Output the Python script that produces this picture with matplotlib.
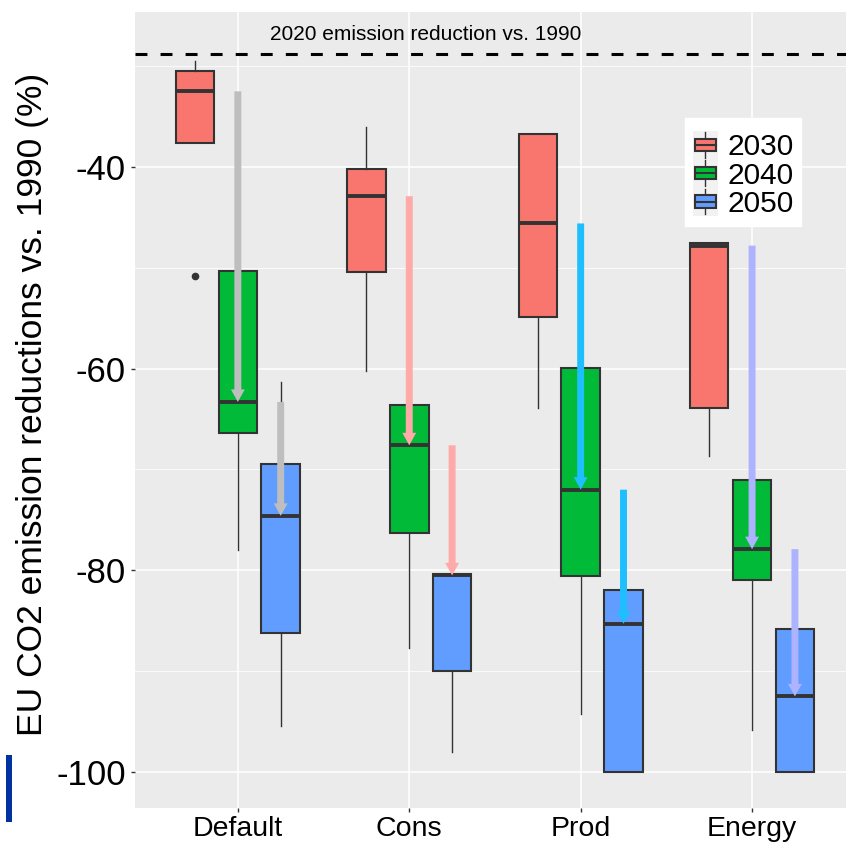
import matplotlib
matplotlib.use('Agg')
import matplotlib.pyplot as plt
from matplotlib.legend_handler import HandlerBase
from matplotlib.patches import Rectangle
from matplotlib.lines import Line2D

plt.rcParams['font.family'] = ['Liberation Sans', 'DejaVu Sans']

scenarios = ['Default', 'Cons', 'Prod', 'Energy']
years = ['2030', '2040', '2050']

# box statistics per year, one value per scenario
whisker_low = {
    '2030': [-37.6, -60.2, -63.9, -68.7],
    '2040': [-78.0, -87.7, -94.2, -95.8],
    '2050': [-95.4, -98.0, -100.0, -100.0],
}
q1 = {
    '2030': [-37.6, -50.4, -54.9, -63.9],
    '2040': [-66.4, -76.3, -80.6, -81.0],
    '2050': [-86.2, -90.0, -100.0, -100.0],
}
median = {
    '2030': [-32.5, -42.9, -45.6, -47.8],
    '2040': [-63.3, -67.6, -72.0, -77.9],
    '2050': [-74.6, -80.5, -85.3, -92.5],
}
q3 = {
    '2030': [-30.5, -40.2, -36.7, -47.5],
    '2040': [-50.3, -63.6, -59.9, -71.0],
    '2050': [-69.5, -80.4, -82.0, -85.8],
}
whisker_high = {
    '2030': [-29.5, -36.0, -36.7, -47.5],
    '2040': [-50.3, -63.6, -59.9, -71.0],
    '2050': [-61.3, -80.4, -82.0, -85.8],
}
outliers = {
    '2030': [[-50.8], [], [], []],
    '2040': [[], [], [], []],
    '2050': [[], [], [], []],
}

reduction_2020 = -28.8

box_colors = ['#F8766D', '#00BA38', '#619CFF']
arrow_colors = ['#BEBEBE', '#FFA9A9', '#1FBFFF', '#ADB3FF']
dodge = [-0.25, 0.0, 0.25]


class BoxKey(HandlerBase):
    """legend key drawn as a tiny boxplot"""
    def create_artists(self, legend, orig_handle, xdescent, ydescent,
                       width, height, fontsize, trans):
        x0, y0 = -xdescent, -ydescent
        cx, cy = x0 + width / 2, y0 + height / 2
        bg = Rectangle((x0, y0 - 1), width, height + 2, facecolor='#F2F2F2',
                       edgecolor='none', transform=trans)
        whisk = Line2D([cx, cx], [y0, y0 + height], color='#333333',
                       lw=1.0, transform=trans)
        box = Rectangle((x0 + 0.1 * width, cy - 0.24 * height), 0.8 * width,
                        0.48 * height, facecolor=orig_handle.get_facecolor(),
                        edgecolor='#333333', lw=1.5, transform=trans)
        med = Line2D([x0 + 0.1 * width, x0 + 0.9 * width], [cy, cy],
                     color='#333333', lw=1.5, transform=trans)
        return [bg, whisk, box, med]


fig = plt.figure(figsize=(8.46, 8.43), dpi=100)
ax = fig.add_axes([135 / 846, 35 / 843, 711 / 846, 796 / 843])
ax.set_facecolor('#EBEBEB')

for j, yr in enumerate(years):
    stats = []
    for i in range(len(scenarios)):
        stats.append(dict(med=median[yr][i], q1=q1[yr][i], q3=q3[yr][i],
                          whislo=whisker_low[yr][i], whishi=whisker_high[yr][i],
                          fliers=outliers[yr][i]))
    pos = [i + 1 + dodge[j] for i in range(len(scenarios))]
    ax.bxp(stats, positions=pos, widths=0.225, patch_artist=True,
           showcaps=False, manage_ticks=False,
           boxprops=dict(facecolor=box_colors[j], edgecolor='#333333', linewidth=1.5),
           medianprops=dict(color='#333333', linewidth=2.8),
           whiskerprops=dict(color='#333333', linewidth=1.0),
           flierprops=dict(marker='o', markerfacecolor='#333333',
                           markeredgecolor='#333333', markersize=4.5))

# arrows from one decade's median to the next
for i in range(len(scenarios)):
    for j in range(len(years) - 1):
        x = i + 1 + dodge[j + 1]
        ax.annotate('', xy=(x, median[years[j + 1]][i]),
                    xytext=(x, median[years[j]][i]),
                    arrowprops=dict(arrowstyle='simple,head_length=0.9,head_width=1.0,tail_width=0.5',
                                    mutation_scale=10, color=arrow_colors[i],
                                    lw=0, shrinkA=0, shrinkB=0),
                    zorder=5)

ax.axhline(reduction_2020, color='black', lw=2.2, linestyle=(0, (3.9, 4.3)), zorder=2)
ax.text(2.095, -26.9, '2020 emission reduction vs. 1990', fontsize=15,
        ha='center', va='center')

ax.set_xlim(0.4, 4.548)
ax.set_ylim(-103.57, -24.63)
ax.set_xticks(range(1, len(scenarios) + 1))
ax.set_xticklabels(scenarios, fontsize=20.5)
ax.set_yticks([-100, -80, -60, -40])
ax.set_yticklabels(['-100', '-80', '-60', '-40'], fontsize=25)
ax.set_yticks([-90, -70, -50, -30], minor=True)
ax.tick_params(which='major', color='#333333', length=3, width=1, pad=3.5, labelcolor='black')
ax.tick_params(axis='x', pad=2.5)
ax.tick_params(which='minor', length=0)
ax.grid(which='major', color='white', lw=1.1)
ax.grid(which='minor', axis='y', color='white', lw=0.55)
ax.set_axisbelow(True)
for s in ax.spines.values():
    s.set_visible(False)

handles = [Rectangle((0, 0), 1, 1, facecolor=c) for c in box_colors]
ax.legend(handles, years, handler_map={Rectangle: BoxKey()}, loc='upper left',
          bbox_to_anchor=(0.773, 0.8668), fontsize=21.5, frameon=True, fancybox=False,
          edgecolor='white', facecolor='white', framealpha=1,
          title=' ', title_fontsize=5,
          handlelength=0.85, handleheight=0.95, handletextpad=0.3,
          labelspacing=-0.03, borderpad=0.27, borderaxespad=0)

fig.text(33 / 846, 1 - 404 / 843, 'EU CO2 emission reductions vs. 1990 (%)',
         rotation=90, fontsize=25.5, ha='center', va='center')

# thin blue bar in the lower left corner
fig.patches.append(Rectangle((6 / 846, 1 - 822 / 843), 6 / 846, 67 / 843,
                             transform=fig.transFigure, facecolor='#0033A0',
                             edgecolor='none'))

fig.savefig('out.png', dpi=100)
